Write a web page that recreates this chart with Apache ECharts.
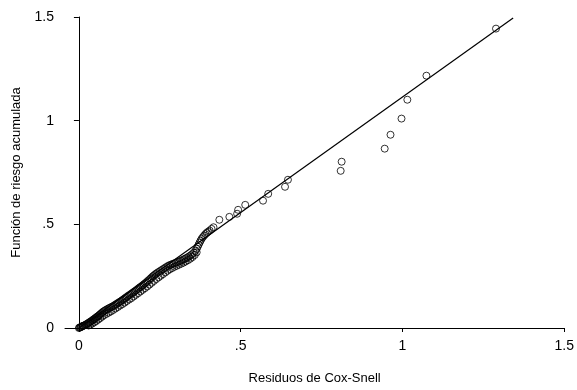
<!DOCTYPE html>
<html>
<head>
<meta charset="utf-8">
<script src="https://cdn.jsdelivr.net/npm/echarts@6/dist/echarts.min.js"></script>
<style>
  html, body { margin: 0; padding: 0; background: #fff; }
  #chart { width: 577px; height: 390px; }
</style>
</head>
<body>
<div id="chart"></div>
<script>
// Cox-Snell residuals vs. Nelson-Aalen cumulative hazard
const residuals = [
  0.000, 0.002, 0.004, 0.006, 0.008, 0.010, 0.012, 0.014, 0.016, 0.019,
  0.022, 0.025, 0.028, 0.031, 0.034, 0.037, 0.040, 0.043, 0.046, 0.049,
  0.052, 0.055, 0.058, 0.061, 0.064, 0.067, 0.070, 0.073, 0.076, 0.080,
  0.084, 0.088, 0.092, 0.096, 0.100, 0.104, 0.108, 0.112, 0.116, 0.120,
  0.124, 0.128, 0.132, 0.136, 0.140, 0.144, 0.148, 0.152, 0.156, 0.160,
  0.164, 0.168, 0.172, 0.176, 0.180, 0.184, 0.188, 0.192, 0.196, 0.200,
  0.204, 0.208, 0.212, 0.216, 0.220, 0.224, 0.228, 0.232, 0.236, 0.240,
  0.245, 0.250, 0.255, 0.260, 0.265, 0.270, 0.275, 0.280, 0.285, 0.290,
  0.295, 0.300, 0.305, 0.310, 0.315, 0.320, 0.325, 0.330, 0.335, 0.340,
  0.345, 0.350, 0.355, 0.360, 0.364, 0.367, 0.370, 0.373, 0.376, 0.379,
  0.383, 0.387, 0.391, 0.395, 0.399, 0.404, 0.410, 0.416,
  0.434, 0.465, 0.489, 0.492, 0.514, 0.569, 0.585, 0.637, 0.646,
  0.809, 0.812, 0.945, 0.963, 0.997, 1.015, 1.074, 1.289
];
const cumHazard = [
  0.000, 0.002, 0.003, 0.005, 0.006, 0.008, 0.010, 0.011, 0.012, 0.014,
  0.017, 0.020, 0.023, 0.026, 0.029, 0.032, 0.035, 0.039, 0.042, 0.046,
  0.049, 0.053, 0.056, 0.060, 0.064, 0.068, 0.072, 0.076, 0.080, 0.084,
  0.088, 0.091, 0.095, 0.098, 0.101, 0.104, 0.108, 0.112, 0.116, 0.120,
  0.124, 0.128, 0.132, 0.137, 0.141, 0.146, 0.150, 0.155, 0.159, 0.163,
  0.168, 0.172, 0.177, 0.181, 0.186, 0.191, 0.196, 0.200, 0.205, 0.210,
  0.215, 0.220, 0.226, 0.231, 0.237, 0.243, 0.249, 0.254, 0.259, 0.264,
  0.269, 0.274, 0.279, 0.284, 0.289, 0.294, 0.299, 0.303, 0.306, 0.309,
  0.312, 0.315, 0.318, 0.321, 0.324, 0.328, 0.332, 0.336, 0.340, 0.345,
  0.350, 0.356, 0.363, 0.372, 0.382, 0.392, 0.402, 0.412, 0.421, 0.430,
  0.438, 0.446, 0.453, 0.459, 0.464, 0.470, 0.478, 0.486,
  0.522, 0.536, 0.551, 0.570, 0.594, 0.614, 0.647, 0.681, 0.715,
  0.758, 0.802, 0.865, 0.932, 1.010, 1.101, 1.217, 1.444
];
// lower edge of the dense band of tied residuals
const residualsLow = [
  0.030, 0.036, 0.042, 0.048, 0.054, 0.060, 0.066, 0.072, 0.078, 0.085,
  0.092, 0.099, 0.106, 0.113, 0.120, 0.127, 0.134, 0.141, 0.148, 0.155,
  0.162, 0.169, 0.176, 0.183, 0.190, 0.197, 0.204, 0.211, 0.218, 0.225,
  0.232, 0.239, 0.246, 0.253, 0.260, 0.267, 0.274, 0.281, 0.288, 0.295,
  0.302, 0.309, 0.316, 0.323, 0.330, 0.337, 0.344, 0.351, 0.358, 0.364
];
const cumHazardLow = [
  0.012, 0.017, 0.022, 0.028, 0.034, 0.041, 0.048, 0.055, 0.062, 0.068,
  0.074, 0.080, 0.087, 0.094, 0.101, 0.108, 0.115, 0.122, 0.130, 0.137,
  0.144, 0.152, 0.160, 0.168, 0.176, 0.184, 0.192, 0.200, 0.209, 0.218,
  0.227, 0.236, 0.244, 0.252, 0.260, 0.268, 0.276, 0.283, 0.289, 0.295,
  0.300, 0.305, 0.310, 0.315, 0.321, 0.327, 0.334, 0.342, 0.352, 0.365
];
// reference line endpoints
const refX = [0, 1.342];
const refY = [0, 1.495];
const tickValues = [0, 0.5, 1, 1.5];
const tickLabels = ['0', '.5', '1', '1.5'];

const font = "'Liberation Sans', Arial, sans-serif";

function fmt(v) {
  const i = tickValues.findIndex(t => Math.abs(t - v) < 1e-6);
  return i >= 0 ? tickLabels[i] : '';
}

const points = residuals.map((x, i) => [x, cumHazard[i]])
  .concat(residualsLow.map((x, i) => [x, cumHazardLow[i]]));

const chart = echarts.init(document.getElementById('chart'));
chart.setOption({
  animation: false,
  backgroundColor: '#fff',
  grid: { left: 65, right: 10, top: 17, bottom: 62 },
  xAxis: {
    type: 'value',
    min: -0.043,
    max: 1.5,
    name: 'Residuos de Cox-Snell',
    nameLocation: 'middle',
    nameGap: 44,
    nameTextStyle: { fontFamily: font, fontSize: 13, color: '#000' },
    axisLine: { show: true, lineStyle: { color: '#000', width: 1 } },
    axisTick: { show: true, length: 4, customValues: tickValues, lineStyle: { color: '#000' } },
    axisLabel: {
      customValues: tickValues, formatter: fmt, margin: 11,
      fontFamily: font, fontSize: 14, color: '#000'
    },
    splitLine: { show: false }
  },
  yAxis: {
    type: 'value',
    min: 0,
    max: 1.5,
    name: 'Función de riesgo acumulada',
    nameLocation: 'middle',
    nameGap: 42,
    nameTextStyle: { fontFamily: font, fontSize: 13, color: '#000' },
    axisLine: { show: true, lineStyle: { color: '#000', width: 1 } },
    axisTick: { show: true, length: 5, customValues: tickValues, lineStyle: { color: '#000' } },
    axisLabel: {
      customValues: tickValues, formatter: fmt, margin: 11,
      fontFamily: font, fontSize: 14, color: '#000'
    },
    splitLine: { show: false }
  },
  series: [
    {
      type: 'line',
      data: refX.map((x, i) => [x, refY[i]]),
      symbol: 'none',
      lineStyle: { color: '#000', width: 1.2 },
      z: 2
    },
    {
      type: 'scatter',
      data: points,
      symbol: 'circle',
      symbolSize: 7,
      itemStyle: { color: 'rgba(0,0,0,0)', borderColor: '#000', borderWidth: 1 },
      z: 3
    }
  ]
});
</script>
</body>
</html>
